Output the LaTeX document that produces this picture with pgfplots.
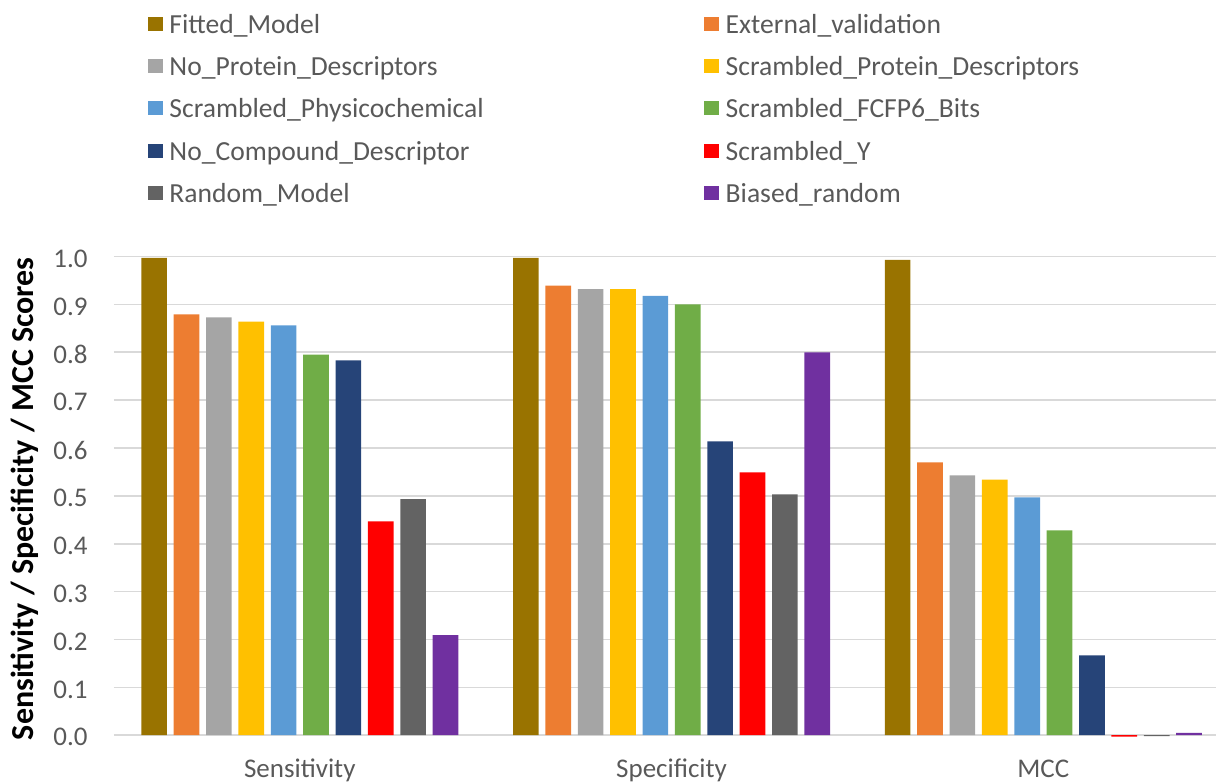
\documentclass[border=0pt]{standalone}
\usepackage{fontspec}
\setmainfont{Carlito}
\usepackage{pgfplots}
\pgfplotsset{compat=1.18}

\definecolor{cFit}{HTML}{997300}
\definecolor{cExt}{HTML}{ED7D31}
\definecolor{cNoProt}{HTML}{A5A5A5}
\definecolor{cScrProt}{HTML}{FFC000}
\definecolor{cPhys}{HTML}{5B9BD5}
\definecolor{cFcfp}{HTML}{70AD47}
\definecolor{cNoComp}{HTML}{264478}
\definecolor{cScrY}{HTML}{FF0000}
\definecolor{cRand}{HTML}{636363}
\definecolor{cBias}{HTML}{7030A0}
\definecolor{gridgray}{HTML}{D9D9D9}
\definecolor{txtgray}{HTML}{595959}

% square legend swatch and flat bar fill
\pgfplotsset{
  sq/.style={fill=#1, draw=none,
    legend image code/.code={\fill[#1] (0pt,1.3pt) rectangle (7.6pt,8.3pt);}},
}
% left legend column has a fixed width so the right column starts at a set place
\newcommand\lc[1]{\makebox[267.5pt][l]{#1}}

\begin{document}
\begin{tikzpicture}
\begin{axis}[
  at={(0,0)}, anchor=south west,
  scale only axis, width=551.5pt, height=239.5pt,
  xmin=-0.5, xmax=2.465, ymin=0, ymax=1,
  clip=false,
  axis line style={draw=none},
  major tick length=0pt,
  ybar=3.35pt, bar width=12.85pt,
  xtick={0,1,2},
  xticklabels={Sensitivity,Specificity,MCC},
  xticklabel style={font=\fontsize{13.5}{16}\selectfont, text=txtgray,
    anchor=base, inner sep=0pt, yshift=-21.3pt},
  ytick={0,0.1,0.2,0.3,0.4,0.5,0.6,0.7,0.8,0.9,1.0},
  scaled y ticks=false,
  yticklabel style={font=\fontsize{13.5}{16}\selectfont, text=txtgray,
    anchor=east, inner sep=0pt, xshift=-13pt, yshift=-1pt,
    /pgf/number format/fixed, /pgf/number format/fixed zerofill,
    /pgf/number format/precision=1,
    /pgf/number format/assume math mode=true},
  ymajorgrids,
  grid style={gridgray, line width=0.8pt},
  ylabel={Sensitivity / Specificity / MCC Scores},
  ylabel style={font=\fontsize{16}{19}\selectfont\bfseries, text=black,
    at={(axis description cs:-0.0732,0.494)}, anchor=base, inner sep=0pt},
  legend columns=2,
  legend cell align=left,
  legend style={at={(axis description cs:0.0308,1.502)}, anchor=north west,
    draw=none, fill=none, inner sep=0pt, outer sep=0pt, row sep=10.2pt,
    font=\fontsize{13.8}{16}\selectfont, text=txtgray,
    nodes={inner sep=0pt, text height=8.5pt, text depth=2.5pt, anchor=base west},
    /tikz/every odd column/.append style={column sep=3.2pt},
    /tikz/every even column/.append style={column sep=0pt}},
]
\addplot[sq=cFit]     coordinates {(0,0.997) (1,0.997) (2,0.993)};
\addplot[sq=cExt]     coordinates {(0,0.879) (1,0.939) (2,0.570)};
\addplot[sq=cNoProt]  coordinates {(0,0.873) (1,0.932) (2,0.543)};
\addplot[sq=cScrProt] coordinates {(0,0.864) (1,0.932) (2,0.534)};
\addplot[sq=cPhys]    coordinates {(0,0.856) (1,0.918) (2,0.497)};
\addplot[sq=cFcfp]    coordinates {(0,0.795) (1,0.900) (2,0.428)};
\addplot[sq=cNoComp]  coordinates {(0,0.783) (1,0.614) (2,0.167)};
\addplot[sq=cScrY]    coordinates {(0,0.447) (1,0.549) (2,-0.003)};
\addplot[sq=cRand]    coordinates {(0,0.493) (1,0.503) (2,-0.002)};
\addplot[sq=cBias]    coordinates {(0,0.209) (1,0.800) (2,0.005)};
\legend{\lc{Fitted\_Model}, External\_validation,
        \lc{No\_Protein\_Descriptors}, Scrambled\_Protein\_Descriptors,
        \lc{Scrambled\_Physicochemical}, Scrambled\_FCFP6\_Bits,
        \lc{No\_Compound\_Descriptor}, Scrambled\_Y,
        \lc{Random\_Model}, Biased\_random}
\end{axis}
% page margins around the chart
\path (-57pt,-24.15pt) rectangle (551.5pt,367.85pt);
\end{tikzpicture}
\end{document}
